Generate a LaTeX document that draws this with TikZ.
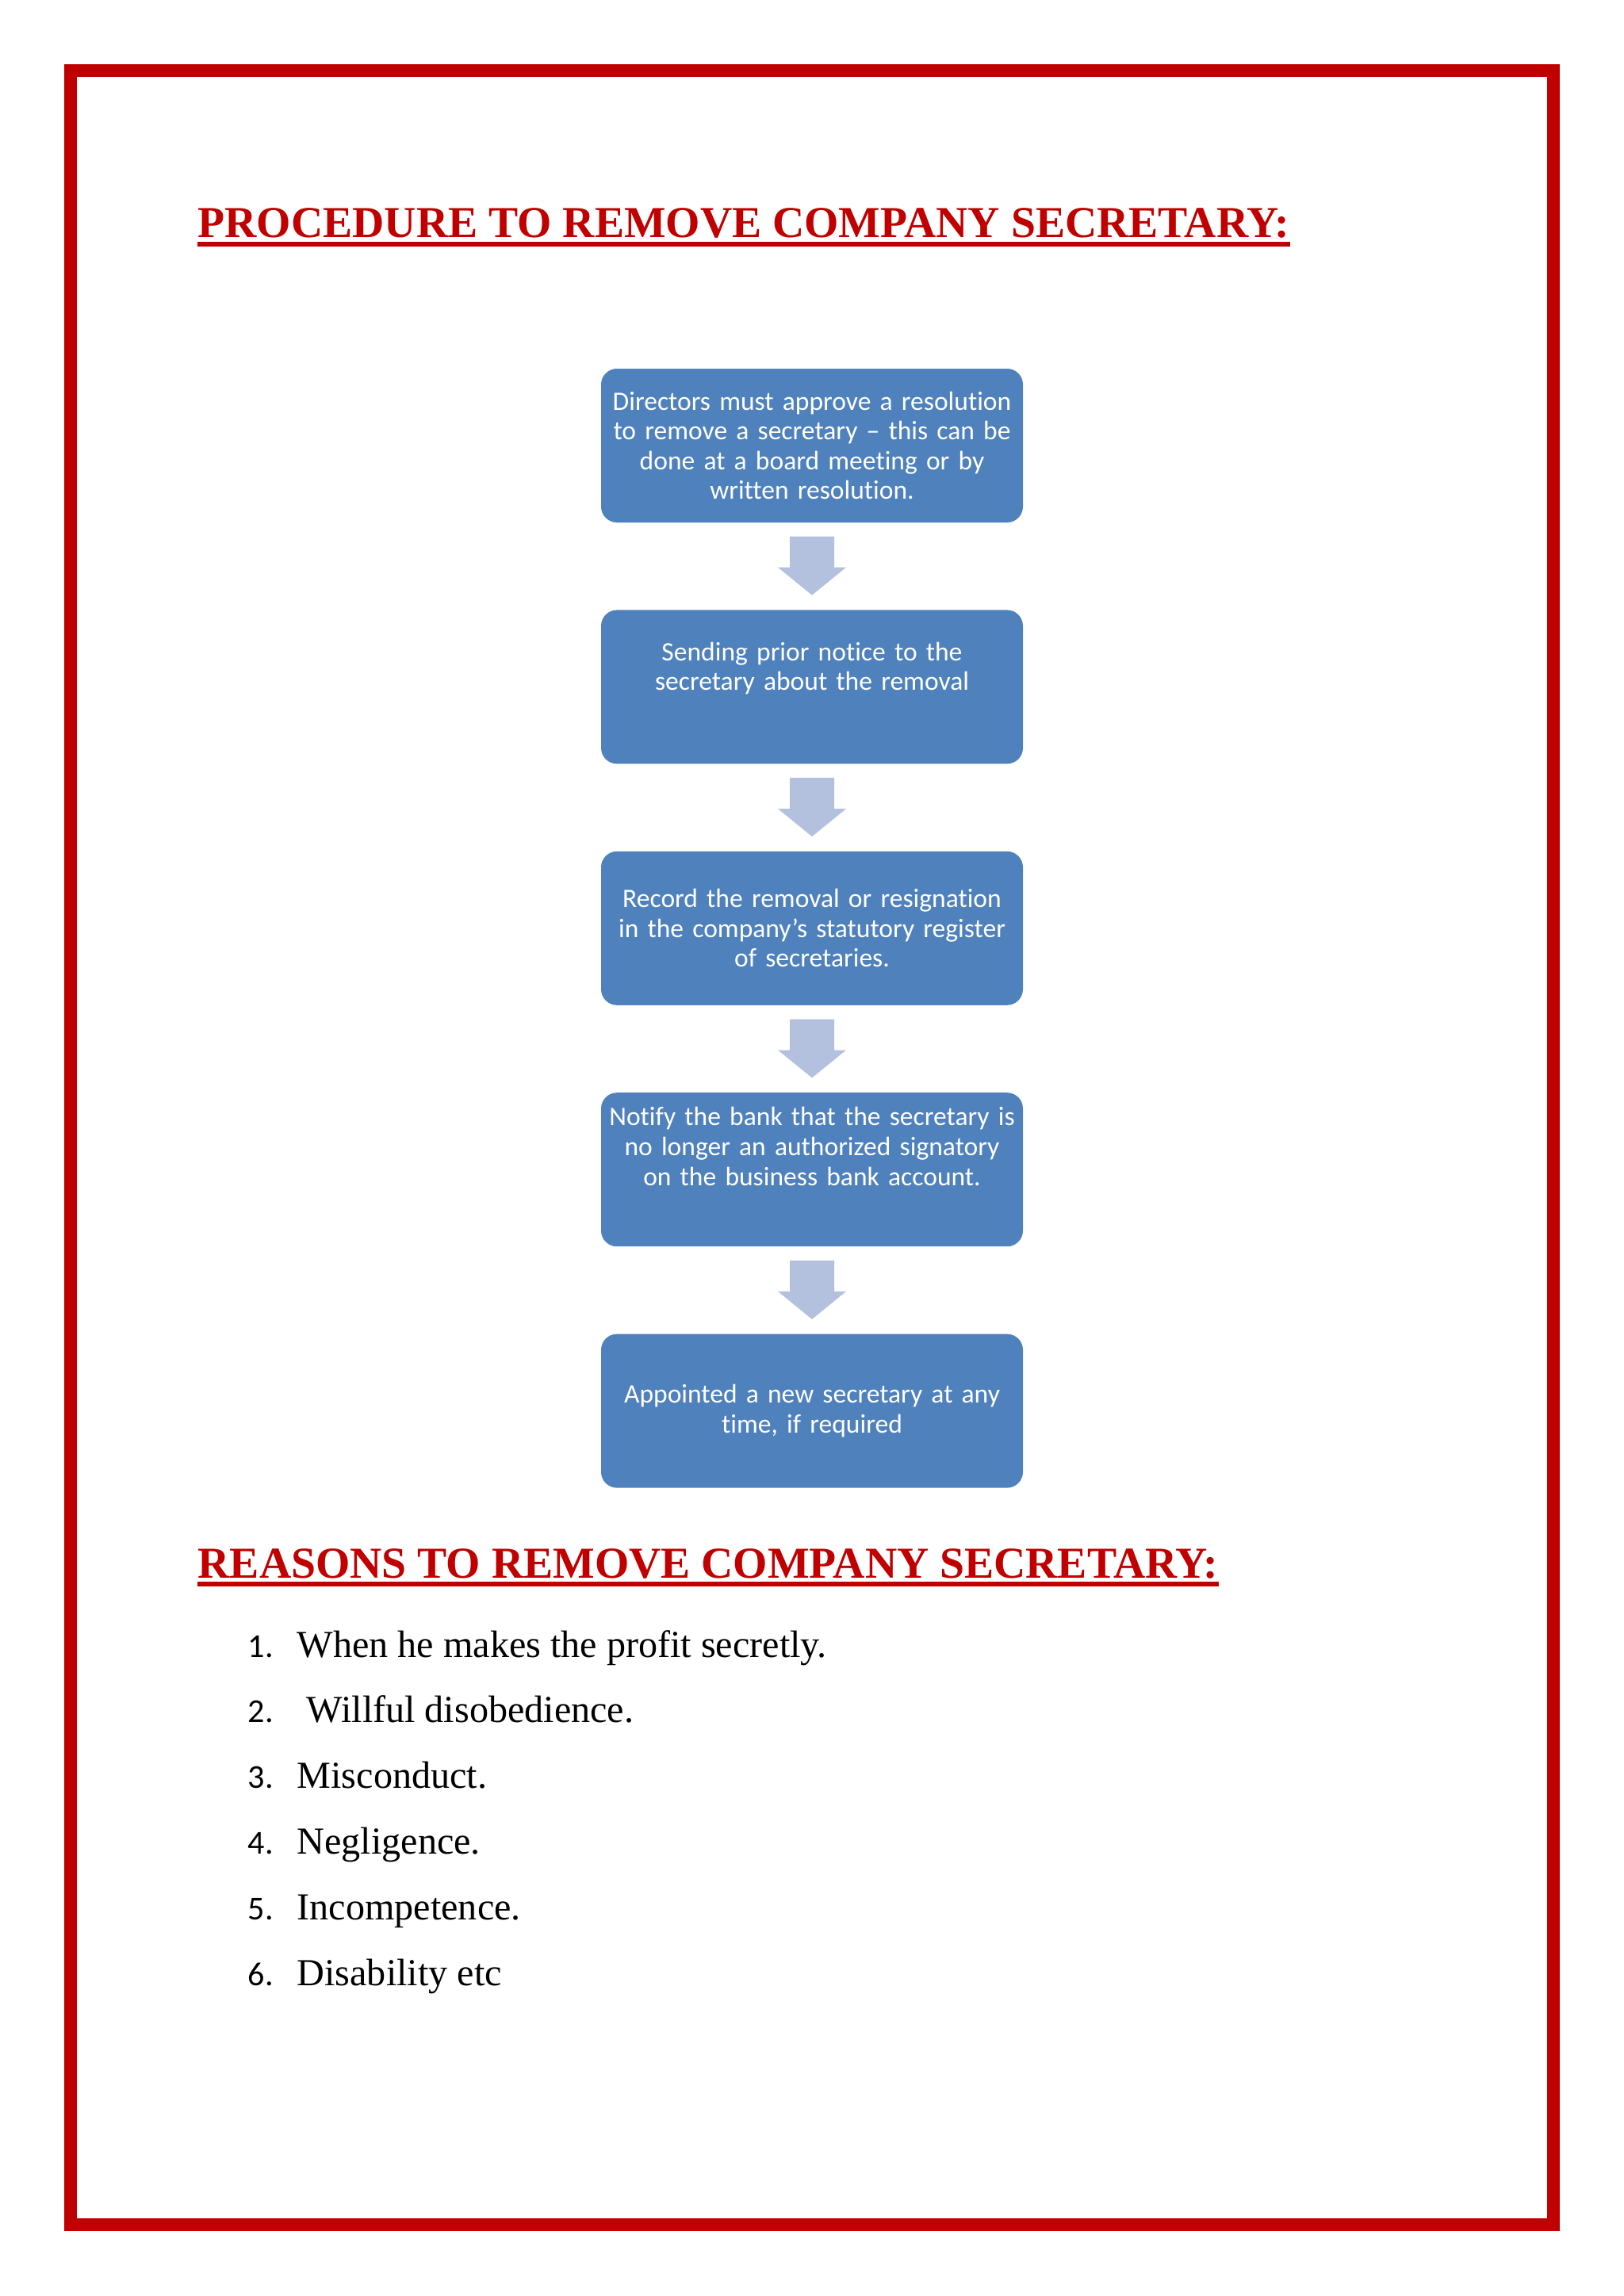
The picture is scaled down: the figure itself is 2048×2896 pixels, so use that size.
\documentclass[tikz,border=0pt]{standalone}
\usepackage{fontspec}
\setmainfont{Liberation Serif}
\newfontfamily\calib[Ligatures=NoCommon]{Carlito}
\usepackage{xcolor}
\usepackage{tikz}
\usetikzlibrary{positioning,calc}
\definecolor{crimson}{RGB}{192,0,0}
\definecolor{boxblue}{RGB}{79,129,189}
\definecolor{arrowblue}{RGB}{180,193,222}
\tikzset{
  stepbox/.style={fill=boxblue,rounded corners=2mm,minimum width=53.2mm,minimum height=19.4mm,text width=53.2mm,align=center,inner xsep=0pt,inner ysep=1mm,text=white,font=\calib\fontsize{9.55}{10.7}\selectfont},
  heading/.style={anchor=base west,inner sep=0pt,text=crimson,font=\bfseries\fontsize{15.85}{18}\selectfont},
  uline/.style={crimson,line width=0.6mm},
  frame/.style={crimson,line width=1.55mm},
  blockarrow/.style={fill=arrowblue},
  itemnum/.style={anchor=base west,inner sep=0pt,font=\calib\fontsize{12}{14}\selectfont},
  itemtext/.style={anchor=base west,inner sep=0pt,font=\fontsize{13.7}{16}\selectfont},
}

\begin{document}
\begin{tikzpicture}[x=0.1mm,y=0.1mm]
\path[fill=white,use as bounding box] (0,0) rectangle (2048,-2896);
\draw[frame] (89,-89) rectangle (1959,-2806);

\node[heading] (proc) at (249,-300) {PROCEDURE TO REMOVE COMPANY SECRETARY:};
\draw[uline] ($(proc.base west)+(0,-8)$) -- ($(proc.base east)+(0,-8)$);

\node[stepbox] (res) at (1024,-562) {Directors must approve a resolution\\to remove a secretary – this can be\\done at a board meeting or by\\written resolution.};
\node[stepbox, below=10.9mm of res, text depth=9mm] (notice) {Sending prior notice to the\\secretary about the removal};
\node[stepbox, below=10.9mm of notice] (record) {Record the removal or resignation\\in the company’s statutory register\\of secretaries.};
\node[stepbox, below=10.9mm of record, text depth=13.4mm] (bank) {Notify the bank that the secretary is\\no longer an authorized signatory\\on the business bank account.};
\node[stepbox, below=10.9mm of bank] (appoint) {Appointed a new secretary at any\\time, if required};
\foreach \a/\b in {res/notice,notice/record,record/bank,bank/appoint}
  \fill[blockarrow] ($(\a.south)+(-28,-17)$) -- ($(\a.south)+(28,-17)$) -- ($(\b.north)+(28,53)$)
    -- ($(\b.north)+(43,53)$) -- ($(\b.north)+(0,18)$) -- ($(\b.north)+(-43,53)$) -- ($(\b.north)+(-28,53)$) -- cycle;

\node[heading] (reas) at (249,-1990) {REASONS TO REMOVE COMPANY SECRETARY:};
\draw[uline] ($(reas.base west)+(0,-8)$) -- ($(reas.base east)+(0,-8)$);
\foreach \i/\t in {1/When he makes the profit secretly.,2/\ Willful disobedience.,3/Misconduct.,4/Negligence.,5/Incompetence.,6/Disability etc} {
  \node[itemnum] (num\i) at (312,{-2090-82.8*(\i-1)}) {\i.};
  \node[itemtext] (item\i) at (374,{-2090-82.8*(\i-1)}) {\t};
}
\end{tikzpicture}
\end{document}
